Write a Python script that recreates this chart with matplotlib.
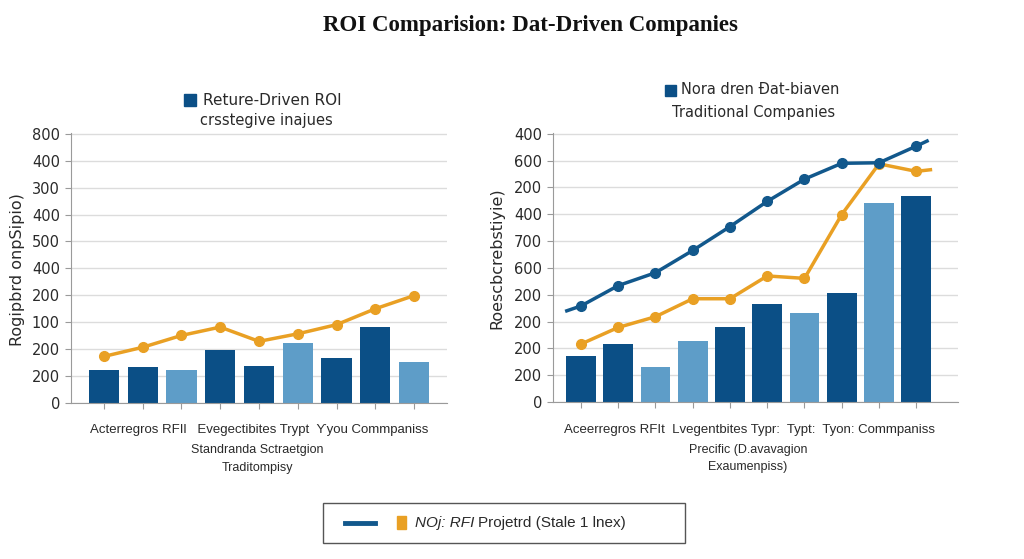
import matplotlib
matplotlib.use("Agg")
import matplotlib.pyplot as plt
from matplotlib.patches import Rectangle
from matplotlib.lines import Line2D

# left panel data (positions in tick-row units)
left_bars = [1.21, 1.34, 1.21, 1.96, 1.39, 2.22, 1.68, 2.82, 1.53]
left_shade = ["d", "d", "l", "d", "d", "l", "d", "d", "l"]
left_line = [1.73, 2.07, 2.51, 2.82, 2.29, 2.57, 2.91, 3.50, 3.99]
left_ticks = ["0", "200", "200", "100", "200", "400", "500", "400", "300", "400", "800"]

# right panel data
right_bars = [1.72, 2.17, 1.29, 2.28, 2.79, 3.66, 3.33, 4.05, 7.42, 7.68]
right_shade = ["d", "d", "l", "l", "d", "d", "l", "d", "l", "d"]
right_blue_x = [-0.38, 0, 1, 2, 3, 4, 5, 6, 7, 8, 9, 9.29]
right_blue = [3.40, 3.58, 4.34, 4.82, 5.65, 6.54, 7.48, 8.31, 8.90, 8.92, 9.54, 9.73]
right_orange_x = [0, 1, 2, 3, 4, 5, 6, 7, 8, 9, 9.38]
right_orange = [2.16, 2.78, 3.18, 3.85, 3.85, 4.70, 4.61, 6.99, 8.88, 8.60, 8.66]
right_ticks = ["0", "200", "200", "200", "200", "600", "700", "400", "200", "600", "400"]

DARK = "#0b4f86"
LIGHT = "#5e9dc8"
ORANGE = "#e9a024"
LINEBLUE = "#12588c"
GRID = "#dcdcdc"
TXT = "#2a2a2a"

fig = plt.figure(figsize=(10.24, 5.59), dpi=100)
W, H = 1024, 559


def style(ax, ticklabels):
    ax.set_ylim(0, 10.03)
    ax.set_yticks(range(11))
    ax.set_yticklabels(ticklabels, fontsize=10.5, color=TXT)
    ax.grid(axis="y", color=GRID, linewidth=1)
    ax.set_axisbelow(True)
    for s in ["top", "right"]:
        ax.spines[s].set_visible(False)
    for s in ["left", "bottom"]:
        ax.spines[s].set_color("#9a9a9a")
    ax.tick_params(axis="y", length=4, color="#9a9a9a", pad=4)
    ax.tick_params(axis="x", length=4, color="#9a9a9a", labelbottom=False)


ax1 = fig.add_axes([71 / W, 1 - 403 / H, (447 - 71) / W, (403 - 133) / H])
xs = range(len(left_bars))
cols = [DARK if c == "d" else LIGHT for c in left_shade]
ax1.bar(xs, left_bars, width=0.78, color=cols, zorder=2)
ax1.plot(xs, left_line, color=ORANGE, lw=2.5, marker="o", ms=7, zorder=3)
ax1.set_xlim(-0.85, 8.85)
ax1.set_xticks(list(xs))
style(ax1, left_ticks)

ax2 = fig.add_axes([553 / W, 1 - 402 / H, (958 - 553) / W, (402 - 133) / H])
xs2 = range(len(right_bars))
cols2 = [DARK if c == "d" else LIGHT for c in right_shade]
ax2.bar(xs2, right_bars, width=0.8, color=cols2, zorder=2)
ax2.plot(right_orange_x, right_orange, color=ORANGE, lw=2.5, marker="o", ms=7,
         markevery=list(range(10)), zorder=3)
ax2.plot(right_blue_x, right_blue, color=LINEBLUE, lw=2.5, marker="o", ms=7,
         markevery=list(range(1, 11)), zorder=4)
ax2.set_xlim(-0.75, 10.12)
ax2.set_xticks(list(xs2))
style(ax2, right_ticks)

# y labels
fig.text(18 / W, 1 - 270 / H, "Rogipbrd onpSipio)", rotation=90, ha="center", va="center",
         fontsize=11.5, color=TXT)
fig.text(497 / W, 1 - 258 / H, "Roescbcrebstiyie)", rotation=90, ha="center", va="center",
         fontsize=11.5, color=TXT)

# title
fig.text(530 / W, 1 - 26 / H, "ROI Comparision: Dat-Driven Companies", ha="center", va="center",
         fontsize=16.5, fontweight="bold", family="Liberation Serif", color="#111111")

# panel headers
fig.add_artist(Rectangle((184 / W, 1 - 106 / H), 12 / W, 12 / H, color=DARK, transform=fig.transFigure))
fig.text(203 / W, 1 - 100 / H, "Reture-Driven ROI", ha="left", va="center", fontsize=11, color=TXT)
fig.text(266 / W, 1 - 120 / H, "crsstegive inajues", ha="center", va="center", fontsize=10.5, color=TXT)
fig.add_artist(Rectangle((665 / W, 1 - 96 / H), 11 / W, 11 / H, color=DARK, transform=fig.transFigure))
fig.text(681 / W, 1 - 90 / H, "Nora dren Đat-biaven", ha="left", va="center", fontsize=10.5, color=TXT)
fig.text(754 / W, 1 - 112 / H, "Traditional Companies", ha="center", va="center", fontsize=10.5, color=TXT)

# x captions
cap = "Liberation Sans"
fig.text(259 / W, 1 - 430 / H, "Acterregros RFIl   Evegectibites Trypt  Ƴyou Commpaniss",
         ha="center", va="center", fontsize=9.5, family=cap, color=TXT)
fig.text(257 / W, 1 - 450 / H, "Standranda Sctraetgion", ha="center", va="center",
         fontsize=9, family=cap, color=TXT)
fig.text(257 / W, 1 - 468 / H, "Traditompisy", ha="center", va="center",
         fontsize=9, family=cap, color=TXT)
fig.text(749 / W, 1 - 430 / H, "Aceerregros RFIt  Lvegentbites Typr:  Typt:  Tyon: Commpaniss",
         ha="center", va="center", fontsize=9.5, family=cap, color=TXT)
fig.text(748 / W, 1 - 450 / H, "Precific (D.avavagion", ha="center", va="center",
         fontsize=9, family=cap, color=TXT)
fig.text(748 / W, 1 - 467 / H, "Exaumenpiss)", ha="center", va="center",
         fontsize=9, family=cap, color=TXT)

# bottom legend box
fig.add_artist(Rectangle((323 / W, 1 - 543 / H), 362 / W, 40 / H, fill=False, ec="#555555",
                         lw=1, transform=fig.transFigure))
fig.add_artist(Line2D([345 / W, 375 / W], [1 - 523 / H] * 2, color=LINEBLUE, lw=3.5,
                      transform=fig.transFigure))
fig.add_artist(Rectangle((397 / W, 1 - 529 / H), 9 / W, 13 / H, color=ORANGE, transform=fig.transFigure))
t1 = fig.text(415 / W, 1 - 523 / H, "NOj: RFI", ha="left", va="center", fontsize=11,
              style="italic", family=cap, color=TXT)
fig.draw_without_rendering()
fig.text(0, 0, "Projetrd (Stale 1 lnex)", ha="left", va="center", fontsize=11, family=cap,
         color=TXT, transform=matplotlib.transforms.offset_copy(
             t1.get_transform(), fig=fig, x=t1.get_window_extent().width + 4, units="dots")
         ).set_position((415 / W, 1 - 523 / H))

fig.savefig("out.png", dpi=100, facecolor="white")
